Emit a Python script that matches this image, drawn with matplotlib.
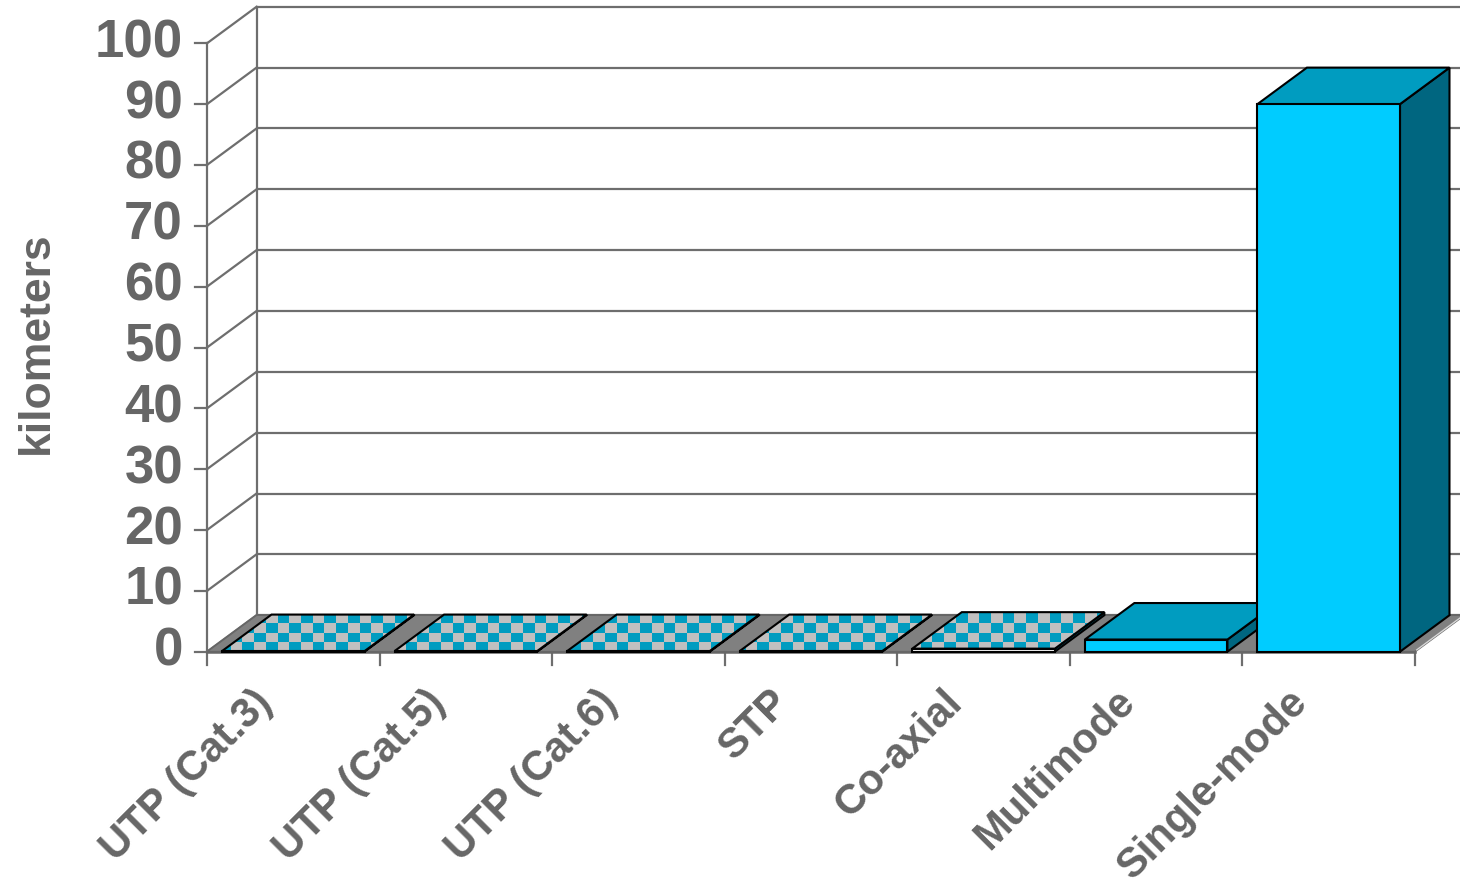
import numpy as np
import matplotlib
matplotlib.use("Agg")
import matplotlib.pyplot as plt
from matplotlib.patches import Polygon, Rectangle
from matplotlib.colors import ListedColormap

# cable types and maximum segment length (km)
categories = ["UTP (Cat.3)", "UTP (Cat.5)", "UTP (Cat.6)", "STP",
              "Co-axial", "Multimode", "Single-mode"]
distance_km = [0.1, 0.1, 0.1, 0.1, 0.5, 2, 90]
patterned = [True, True, True, True, True, False, False]
y_ticks = list(range(0, 101, 10))

TEXT = "#666666"
GRID = "#6e6e6e"
FRONT = "#00ccff"
TOP = "#009cc0"
SIDE = "#006680"
CHECK_A = "#c0c0c0"
CHECK_B = "#009cc0"

plt.rcParams["font.family"] = ["Liberation Sans", "DejaVu Sans"]
plt.rcParams["font.weight"] = "bold"

fig = plt.figure(figsize=(14.6, 8.91), dpi=100)
ax = fig.add_axes([0, 0, 1, 1])
ax.set_axis_off()

# pixel scale of the plot area
px_x = 172.57          # px per category
px_y = 6.084           # px per km
x0_px, y0_px = 207, 651.7
xlim = (-x0_px / px_x, (1460 - x0_px) / px_x)
ylim = (-(891 - y0_px) / px_y, y0_px / px_y)

# oblique depth offset
ddx = 49.5 / px_x
ddy = 36.5 / px_y
n = len(categories)
ymax = y_ticks[-1]
gap = 15 / px_x


def checker(ax, pts, z):
    pts = np.asarray(pts)
    cw, ch = 11.7 / px_x, 9.5 / px_y
    xa = np.floor(pts[:, 0].min() / cw) * cw
    ya = np.floor(pts[:, 1].min() / ch) * ch
    nx = int(np.ceil((pts[:, 0].max() - xa) / cw)) + 1
    ny = int(np.ceil((pts[:, 1].max() - ya) / ch)) + 1
    ix = int(round(xa / cw))
    iy = int(round(ya / ch))
    grid = (np.add.outer(np.arange(ny) + iy, np.arange(nx) + ix)) % 2
    im = ax.imshow(grid, cmap=ListedColormap([CHECK_A, CHECK_B]),
                   extent=(xa, xa + nx * cw, ya, ya + ny * ch),
                   origin="lower", interpolation="nearest",
                   aspect="auto", zorder=z)
    clip = Polygon(pts, closed=True, transform=ax.transData)
    im.set_clip_path(clip)
    ax.add_patch(Polygon(pts, closed=True, facecolor="none",
                         edgecolor="black", lw=1.5, zorder=z + 0.1))


# back wall gridlines and left wall
for v in y_ticks:
    ax.plot([ddx, xlim[1] + 1], [v + ddy, v + ddy], color=GRID, lw=1.6,
            zorder=1, solid_capstyle="butt")
    ax.plot([0, ddx], [v, v + ddy], color=GRID, lw=1.6, zorder=1)
    ax.plot([-12 / px_x, 0], [v, v], color=GRID, lw=1.6, zorder=1)
    ax.text(-24 / px_x, v, str(v), ha="right", va="center",
            fontsize=38, color=TEXT, fontweight="bold")
ax.plot([0, 0], [0, ymax], color=GRID, lw=1.6, zorder=1)
ax.plot([ddx, ddx], [ddy, ymax + ddy], color=GRID, lw=1.6, zorder=1)

# floor
floor = [(0, 0), (n, 0), (n + ddx, ddy), (ddx, ddy)]
ax.add_patch(Polygon(floor, closed=True, facecolor="#808080",
                     edgecolor="#666666", lw=1.2, zorder=2))
ax.plot([n + 0.01, n + ddx + 0.01], [0.3, ddy + 0.3], color="#d8d8d8",
        lw=1.0, zorder=2.1)
ax.plot([0, n], [0, 0], color="#666666", lw=1.8, zorder=2.2)

# category ticks
for i in range(n + 1):
    ax.plot([i, i], [0, -13 / px_y], color=GRID, lw=1.6, zorder=2)

# bars
for i, (v, pat) in enumerate(zip(distance_km, patterned)):
    a, b = i + gap, i + 1 - gap
    z = 3 + i
    top = [(a, v), (b, v), (b + ddx, v + ddy), (a + ddx, v + ddy)]
    side = [(b, 0), (b, v), (b + ddx, v + ddy), (b + ddx, ddy)]
    ax.add_patch(Polygon(side, closed=True, facecolor=SIDE,
                         edgecolor="black", lw=1.5, zorder=z))
    if pat:
        checker(ax, top, z + 0.2)
        front_color = "white"
    else:
        ax.add_patch(Polygon(top, closed=True, facecolor=TOP,
                             edgecolor="black", lw=1.5, zorder=z + 0.2))
        front_color = FRONT
    ax.add_patch(Rectangle((a, 0), b - a, v, facecolor=front_color,
                           edgecolor="black", lw=1.5, zorder=z + 0.4))

# category labels
for i, name in enumerate(categories):
    ax.text(i + 0.5 - 0.24, -5.0, name, rotation=45, rotation_mode="anchor",
            ha="right", va="top", fontsize=30, color=TEXT,
            fontweight="bold")

ax.text(xlim[0] + 36 / px_x, (y0_px - 343) / px_y, "kilometers",
        rotation=90, ha="center", va="center", fontsize=32, color=TEXT,
        fontweight="bold")

ax.set_xlim(*xlim)
ax.set_ylim(*ylim)
fig.savefig("out.png", dpi=100)
